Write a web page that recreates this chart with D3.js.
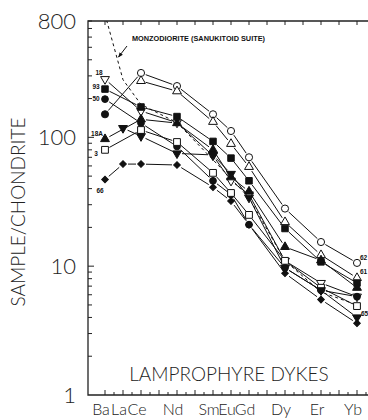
<!DOCTYPE html>
<html>
<head>
<meta charset="utf-8">
<script src="https://cdn.jsdelivr.net/npm/d3@7"></script>
<style>
  html, body { margin: 0; padding: 0; background: #fff; }
  svg { display: block; }
  .big { font-family: Lato, "Open Sans", sans-serif; font-weight: 300; fill: #222; }
  .small { font-family: "Liberation Sans", Arial, sans-serif; font-weight: bold; fill: #111; }
</style>
</head>
<body>
<svg id="chart" width="368" height="420"></svg>
<script>
// Chondrite-normalised REE patterns of lamprophyre dykes
const elements = ["Ba","La","Ce","Pr","Nd","Pm","Sm","Eu","Gd","Tb","Dy","Ho","Er","Tm","Yb","Lu"];
const analysed = ["Ba","La","Ce","Nd","Sm","Eu","Gd","Dy","Er","Yb"];
const axisLabels = ["Ba","La","Ce","Nd","Sm","Eu","Gd","Dy","Er","Yb"];
const yTickValues = [1, 10, 100, 800];

// Sample/chondrite values, in the order of `analysed` (null = not determined)
const sample62  = [151, null, 316, 250, 151, 112, 70, 28, 15.4, 10.6];
const sample61  = [null, null, 274, 228, 132, 89, 59, 22, 12.2, 8.1];
const sample18  = [283, null, 160, 130, 72, 46, 36, 11.0, 7.4, 5.8];
const sample93  = [237, null, 172, 145, 93, 69, 46, 19.6, 10.8, 7.4];
const sample50  = [198, null, 129, 85, 46, 36, 21, 9.7, 6.5, 5.8];
const sample18A = [97, null, 138, 129, 80, 49, 38, 14.1, 11.1, 6.8];
const sample3   = [80, null, 114, 92, 53, 37, 25, 11.0, 6.8, 4.9];
const sample66  = [47, 62, 62, 61, 41, 32, 21, 8.8, 5.5, 3.6];
const sample65  = [null, 118, 102, 75, 73, 52, 34, 9.7, 6.5, 4.0];
const monzodiorite = [900, 280, 180, 130, 67, null, 34, 11, 6.3, 5.0];

const sampleIds = ["62","61","18","93","50","18A","3","66","65"];
const sampleValues = [sample62, sample61, sample18, sample93, sample50, sample18A, sample3, sample66, sample65];

// ---- drawing ----
const svg = d3.select("#chart");
const plotLeft = 88, plotTop = 21, plotBottom = 395, plotRight = 372;

const x = d3.scalePoint().domain(elements).range([105, 375]);
const y = d3.scaleLog().domain([1, 800]).range([plotBottom, plotTop]);

// marker look for each sample
const markerStyle = {
  "62":  {shape: d3.symbolCircle,   size: 40, fill: false, rot: 0},
  "61":  {shape: d3.symbolTriangle, size: 34, fill: false, rot: 0},
  "18":  {shape: d3.symbolTriangle, size: 34, fill: false, rot: 180},
  "93":  {shape: d3.symbolSquare,   size: 42, fill: true,  rot: 0},
  "50":  {shape: d3.symbolCircle,   size: 36, fill: true,  rot: 0},
  "18A": {shape: d3.symbolTriangle, size: 34, fill: true,  rot: 0},
  "3":   {shape: d3.symbolSquare,   size: 46, fill: false, rot: 0},
  "66":  {shape: d3.symbolSquare,   size: 22, fill: true,  rot: 45},
  "65":  {shape: d3.symbolTriangle, size: 34, fill: true,  rot: 180}
};

const defs = svg.append("defs");
defs.append("clipPath").attr("id", "plotClip")
  .append("rect").attr("x", plotLeft).attr("y", plotTop)
  .attr("width", plotRight - plotLeft).attr("height", plotBottom - plotTop);
defs.append("marker").attr("id", "arrowHead")
  .attr("viewBox", "0 0 10 10").attr("refX", 9).attr("refY", 5)
  .attr("markerWidth", 5).attr("markerHeight", 5).attr("orient", "auto")
  .append("path").attr("d", "M0,1 L10,5 L0,9 Z").attr("fill", "#111");

// frame
svg.append("path")
  .attr("d", `M${plotRight},${plotTop} H${plotLeft} V${plotBottom} H${plotRight}`)
  .attr("fill", "none").attr("stroke", "#222").attr("stroke-width", 1.3);

// y ticks (inward), major and log minor
const yMinor = [];
[1, 10, 100].forEach(d => { for (let k = 2; k <= 9; k++) if (d * k <= 800) yMinor.push(d * k); });
svg.append("g").selectAll("line").data(yMinor).join("line")
  .attr("x1", plotLeft).attr("x2", plotLeft + 4)
  .attr("y1", d => y(d)).attr("y2", d => y(d))
  .attr("stroke", "#222").attr("stroke-width", 1);
svg.append("g").selectAll("line").data([10, 100]).join("line")
  .attr("x1", plotLeft).attr("x2", plotLeft + 6)
  .attr("y1", d => y(d)).attr("y2", d => y(d))
  .attr("stroke", "#222").attr("stroke-width", 1);

svg.append("g").selectAll("text").data(yTickValues).join("text")
  .attr("class", "big")
  .attr("x", 76).attr("y", d => y(d) + 7.5)
  .attr("text-anchor", "end").attr("font-size", 22)
  .text(d => d);

// x ticks: element positions on bottom and top, half steps on bottom
const step = x.step();
const shown = elements.filter(e => x(e) < plotRight);
svg.append("g").selectAll("line").data(shown).join("line")
  .attr("x1", d => x(d)).attr("x2", d => x(d))
  .attr("y1", plotBottom).attr("y2", plotBottom - 5)
  .attr("stroke", "#222").attr("stroke-width", 1);
svg.append("g").selectAll("line").data(shown.filter(e => x(e) + step / 2 < plotRight)).join("line")
  .attr("x1", d => x(d) + step / 2).attr("x2", d => x(d) + step / 2)
  .attr("y1", plotBottom).attr("y2", plotBottom - 3)
  .attr("stroke", "#222").attr("stroke-width", 1);
svg.append("g").selectAll("line").data(shown).join("line")
  .attr("x1", d => x(d)).attr("x2", d => x(d))
  .attr("y1", plotTop).attr("y2", plotTop + 4)
  .attr("stroke", "#222").attr("stroke-width", 1);

svg.append("g").selectAll("text").data(axisLabels).join("text")
  .attr("class", "big")
  .attr("x", d => x(d) - 4).attr("y", 415)
  .attr("text-anchor", "middle").attr("font-size", 16)
  .text(d => d);

// axis title
svg.append("text").attr("class", "big")
  .attr("transform", "translate(25,212) rotate(-90)")
  .attr("text-anchor", "middle").attr("font-size", 19)
  .text("SAMPLE/CHONDRITE");

// panel title
svg.append("text").attr("class", "big")
  .attr("x", 229).attr("y", 381)
  .attr("text-anchor", "middle").attr("font-size", 19)
  .text("LAMPROPHYRE DYKES");

const plot = svg.append("g").attr("clip-path", "url(#plotClip)");

// reference pattern: monzodiorite (sanukitoid suite)
const monzoPts = analysed.map((e, i) => [e, monzodiorite[i]]).filter(p => p[1] != null);
plot.append("path")
  .attr("d", d3.line().x(p => x(p[0])).y(p => y(p[1]))(monzoPts))
  .attr("fill", "none").attr("stroke", "#111").attr("stroke-width", 1)
  .attr("stroke-dasharray", "3,3");

svg.append("text").attr("class", "small")
  .attr("x", 132).attr("y", 41).attr("font-size", 7.6)
  .attr("textLength", 133).attr("lengthAdjust", "spacingAndGlyphs")
  .text("MONZODIORITE (SANUKITOID SUITE)");
svg.append("line")
  .attr("x1", 127).attr("y1", 46).attr("x2", 118.5).attr("y2", 57)
  .attr("stroke", "#111").attr("stroke-width", 1)
  .attr("marker-end", "url(#arrowHead)");

// sample patterns: segments stop short of each marker
const gap = 5;
sampleIds.forEach((id, si) => {
  const pts = analysed.map((e, i) => [x(e), sampleValues[si][i] == null ? null : y(sampleValues[si][i])])
    .filter(p => p[1] != null);
  const segs = d3.pairs(pts);
  plot.append("g").selectAll("line").data(segs).join("line")
    .each(function([a, b]) {
      const dx = b[0] - a[0], dy = b[1] - a[1], L = Math.hypot(dx, dy);
      const ux = dx / L, uy = dy / L;
      d3.select(this)
        .attr("x1", a[0] + ux * gap).attr("y1", a[1] + uy * gap)
        .attr("x2", b[0] - ux * gap).attr("y2", b[1] - uy * gap);
    })
    .attr("stroke", "#111").attr("stroke-width", 1);
});

sampleIds.forEach((id, si) => {
  const st = markerStyle[id];
  const pts = analysed.map((e, i) => ({e, v: sampleValues[si][i]})).filter(p => p.v != null);
  plot.append("g").selectAll("path").data(pts).join("path")
    .attr("transform", p => `translate(${x(p.e)},${y(p.v)}) rotate(${st.rot})`)
    .attr("d", d3.symbol().type(st.shape).size(st.size))
    .attr("fill", p => (st.fill || (id === "62" && p.e === "Ba")) ? "#111" : "#fff")
    .attr("stroke", "#111").attr("stroke-width", 1);
});

// sample numbers beside the first and last points
const leftLabelOffset = {"18": [-6, -4], "93": [-9, 0], "50": [-9, 2], "18A": [-8, -3], "3": [-9, 6], "66": [-5, 13]};
const rightLabelOffset = {"62": [3, -3], "61": [3, -4], "65": [4, -1]};
Object.entries(leftLabelOffset).forEach(([id, [dx, dy]]) => {
  const vals = sampleValues[sampleIds.indexOf(id)];
  svg.append("text").attr("class", "small")
    .attr("x", x("Ba") + dx).attr("y", y(vals[0]) + dy)
    .attr("text-anchor", "middle").attr("font-size", 6.5)
    .text(id);
});
Object.entries(rightLabelOffset).forEach(([id, [dx, dy]]) => {
  const vals = sampleValues[sampleIds.indexOf(id)];
  svg.append("text").attr("class", "small")
    .attr("x", x("Yb") + dx).attr("y", y(vals[vals.length - 1]) + dy)
    .attr("text-anchor", "start").attr("font-size", 6.5)
    .text(id);
});
</script>
</body>
</html>
